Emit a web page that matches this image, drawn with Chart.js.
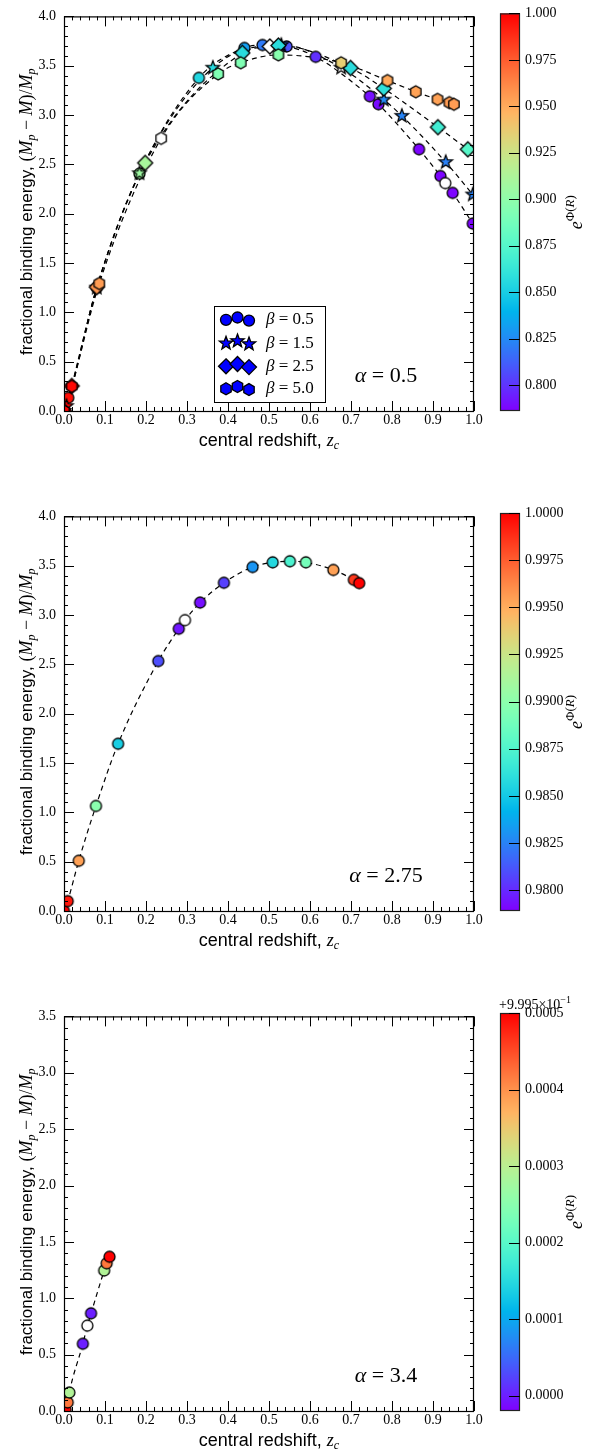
<!DOCTYPE html>
<html>
<head>
<meta charset="utf-8">
<script src="https://cdn.jsdelivr.net/npm/chart.js@4.4.0/dist/chart.umd.min.js"></script>
<style>
html, body { margin: 0; padding: 0; background: #fff; }
body { width: 606px; height: 1453px; position: relative; overflow: hidden; }
.box { position: absolute; }
</style>
</head>
<body>
<div class="box" style="left:0;top:0;width:490px;height:455px"><canvas id="p1"></canvas></div>
<div class="box" style="left:495px;top:0;width:111px;height:455px"><canvas id="c1"></canvas></div>
<div class="box" style="left:0;top:500px;width:490px;height:455px"><canvas id="p2"></canvas></div>
<div class="box" style="left:495px;top:488px;width:111px;height:467px"><canvas id="c2"></canvas></div>
<div class="box" style="left:0;top:1000px;width:490px;height:455px"><canvas id="p3"></canvas></div>
<div class="box" style="left:495px;top:988px;width:111px;height:467px"><canvas id="c3"></canvas></div>
<script>
// tick labels
const xTicks = [0.0, 0.1, 0.2, 0.3, 0.4, 0.5, 0.6, 0.7, 0.8, 0.9, 1.0];
const yTicks4 = [0.0, 0.5, 1.0, 1.5, 2.0, 2.5, 3.0, 3.5, 4.0];
const yTicks35 = [0.0, 0.5, 1.0, 1.5, 2.0, 2.5, 3.0, 3.5];
const cbTicks1 = [0.800, 0.825, 0.850, 0.875, 0.900, 0.925, 0.950, 0.975, 1.000];
const cbTicks2 = [0.9800, 0.9825, 0.9850, 0.9875, 0.9900, 0.9925, 0.9950, 0.9975, 1.0000];
const cbTicks3 = [0.0000, 0.0001, 0.0002, 0.0003, 0.0004, 0.0005];   // offset by +9.995e-1
const cbRange1 = [0.786, 1.0];
const cbRange2 = [0.9789, 1.0];
const cbRange3 = [-0.00002, 0.0005];

// alpha = 0.5 : central redshift, binding energy, e^Phi(R)  (null = white marker)
const betas = [0.5, 1.5, 2.5, 5.0];
const b05_z   = [0.0, 0.0105, 0.080, 0.184, 0.329, 0.440, 0.484, 0.543, 0.614, 0.746, 0.767, 0.866, 0.918, 0.930, 0.948, 0.997];
const b05_be  = [0.0, 0.134, 1.25, 2.405, 3.377, 3.68, 3.71, 3.695, 3.59, 3.19, 3.11, 2.653, 2.382, 2.31, 2.211, 1.90];
const b05_phi = [1.000, 0.996, 0.955, 0.906, 0.854, 0.832, 0.820, 0.808, 0.799, 0.790, 0.789, 0.787, 0.787, null, 0.787, 0.787];

const b15_z   = [0.0, 0.006, 0.080, 0.184, 0.363, 0.530, 0.676, 0.780, 0.824, 0.931, 0.997];
const b15_be  = [0.0, 0.05, 1.25, 2.41, 3.48, 3.71, 3.48, 3.156, 2.992, 2.523, 2.194];
const b15_phi = [1.000, 0.999, 0.955, 0.906, 0.856, 0.830, null, 0.825, 0.823, 0.822, 0.822];

const b25_z   = [0.0, 0.019, 0.080, 0.198, 0.435, 0.502, 0.523, 0.699, 0.780, 0.912, 0.985];
const b25_be  = [0.0, 0.254, 1.256, 2.515, 3.63, 3.695, 3.705, 3.477, 3.27, 2.877, 2.653];
const b25_phi = [1.000, 0.998, 0.957, 0.910, 0.857, null, 0.857, 0.857, 0.859, 0.867, 0.876];

const b50_z   = [0.0, 0.019, 0.086, 0.237, 0.376, 0.431, 0.523, 0.676, 0.789, 0.858, 0.911, 0.940, 0.951];
const b50_be  = [0.0, 0.25, 1.293, 2.764, 3.417, 3.53, 3.61, 3.53, 3.35, 3.236, 3.159, 3.126, 3.109];
const b50_phi = [1.000, 0.998, 0.955, null, 0.893, 0.893, 0.897, 0.936, 0.951, 0.953, 0.953, 0.955, 0.955];

// alpha = 2.75
const a275_z   = [0.0, 0.009, 0.036, 0.078, 0.132, 0.230, 0.280, 0.295, 0.332, 0.390, 0.460, 0.509, 0.551, 0.590, 0.657, 0.707, 0.720];
const a275_be  = [0.0, 0.10, 0.509, 1.065, 1.695, 2.533, 2.861, 2.948, 3.126, 3.327, 3.487, 3.534, 3.545, 3.534, 3.457, 3.357, 3.323];
const a275_phi = [1.0000, 0.9994, 0.9954, 0.9899, 0.9852, 0.9810, 0.9795, null, 0.9793, 0.9806, 0.9831, 0.9857, 0.9873, 0.9890, 0.9954, 0.9985, 1.0000];

// alpha = 3.4  (e^Phi given as offset from 0.9995)
const a34_z   = [0.004, 0.009, 0.013, 0.046, 0.057, 0.066, 0.098, 0.104, 0.111];
const a34_be  = [0.011, 0.076, 0.164, 0.596, 0.757, 0.866, 1.246, 1.31, 1.368];
const a34_phi = [0.0005, 0.00042, 0.00029, 0.0000, null, 0.0000, 0.00029, 0.00042, 0.0005];

const FS = '"Liberation Serif", "Times New Roman", serif';
const FSANS = '"Liberation Sans", Arial, sans-serif';
const serif = (s, it) => (it ? 'italic ' : '') + s + 'px ' + FS;
const sans = s => s + 'px ' + FSANS;

// matplotlib "rainbow" colormap
function rainbow(t) {
  t = Math.max(0, Math.min(1, t));
  const r = Math.min(1, Math.abs(2 * t - 0.5));
  const g = Math.sin(Math.PI * t);
  const b = Math.cos(Math.PI * t / 2);
  return 'rgb(' + Math.round(r * 255) + ',' + Math.round(g * 255) + ',' + Math.round(b * 255) + ')';
}
function colourOf(v, range) {
  if (v == null) return '#ffffff';
  return rainbow((v - range[0]) / (range[1] - range[0]));
}

function markerPath(ctx, shape, x, y, r) {
  ctx.beginPath();
  if (shape === 'circle') {
    ctx.arc(x, y, r, 0, 2 * Math.PI);
  } else if (shape === 'diamond') {
    ctx.moveTo(x, y - r); ctx.lineTo(x + r, y); ctx.lineTo(x, y + r); ctx.lineTo(x - r, y);
  } else if (shape === 'star') {
    for (let i = 0; i < 10; i++) {
      const a = -Math.PI / 2 + i * Math.PI / 5;
      const rr = i % 2 ? r * 0.42 : r;
      ctx.lineTo(x + rr * Math.cos(a), y + rr * Math.sin(a));
    }
  } else if (shape === 'hexagon') {
    for (let i = 0; i < 6; i++) {
      const a = -Math.PI / 2 + i * Math.PI / 3;
      ctx.lineTo(x + r * Math.cos(a), y + r * Math.sin(a));
    }
  }
  ctx.closePath();
}
function drawMarker(ctx, shape, x, y, r, fill) {
  markerPath(ctx, shape, x, y, r);
  ctx.fillStyle = fill;
  ctx.fill();
  ctx.lineWidth = 1.3;
  ctx.strokeStyle = '#000';
  ctx.stroke();
}
const markerCache = {};
function markerImage(shape, r, fill) {
  const key = shape + r + fill;
  if (!markerCache[key]) {
    const c = document.createElement('canvas');
    const s = Math.ceil(2 * r + 4);
    c.width = s; c.height = s;
    drawMarker(c.getContext('2d'), shape, s / 2, s / 2, r, fill);
    markerCache[key] = c;
  }
  return markerCache[key];
}

function drawRich(ctx, parts, x, y, rot, align) {
  ctx.save();
  ctx.translate(x, y);
  ctx.rotate(rot || 0);
  ctx.textBaseline = 'alphabetic';
  ctx.textAlign = 'left';
  ctx.fillStyle = '#000';
  let w = 0;
  parts.forEach(p => { ctx.font = p.f; w += ctx.measureText(p.t).width; });
  let cx = align === 'left' ? 0 : -w / 2;
  parts.forEach(p => {
    ctx.font = p.f;
    ctx.fillText(p.t, cx, p.dy || 0);
    cx += ctx.measureText(p.t).width;
  });
  ctx.restore();
}

const yTitle = [
  {t: 'fractional binding energy, ', f: sans(17)},
  {t: '(', f: serif(18)}, {t: 'M', f: serif(18, 1)}, {t: 'p', f: serif(12, 1), dy: 3},
  {t: ' − ', f: serif(18)}, {t: 'M', f: serif(18, 1)}, {t: ')/', f: serif(18)},
  {t: 'M', f: serif(18, 1)}, {t: 'p', f: serif(12, 1), dy: 3}
];
const xTitle = [
  {t: 'central redshift, ', f: sans(18)},
  {t: 'z', f: serif(18, 1)}, {t: 'c', f: serif(12, 1), dy: 3}
];

function framePlugin(cfg) {
  return {
    id: 'frame',
    afterDraw(chart) {
      const ctx = chart.ctx;
      const {left, right, top, bottom} = chart.chartArea;
      const xs = chart.scales.x, ys = chart.scales.y;
      ctx.save();
      ctx.strokeStyle = '#000';
      ctx.lineWidth = 1;
      ctx.beginPath();
      for (let i = 0; i <= 50; i++) {
        const px = Math.round(xs.getPixelForValue(i / 50)) + 0.5;
        const len = i % 5 === 0 ? 10 : 4;
        ctx.moveTo(px, bottom); ctx.lineTo(px, bottom - len);
        ctx.moveTo(px, top); ctx.lineTo(px, top + len);
      }
      const ny = Math.round(cfg.ymax * 10);
      for (let i = 0; i <= ny; i++) {
        const py = Math.round(ys.getPixelForValue(i / 10)) + 0.5;
        const len = i % 5 === 0 ? 10 : 4;
        ctx.moveTo(left, py); ctx.lineTo(left + len, py);
        ctx.moveTo(right, py); ctx.lineTo(right - len, py);
      }
      ctx.stroke();
      ctx.lineWidth = 1.2;
      ctx.strokeRect(left + 0.5, top + 0.5, right - left - 1, bottom - top);
      ctx.restore();

      drawRich(ctx, xTitle, (left + right) / 2, bottom + 35, 0);
      drawRich(ctx, yTitle, 32, (top + bottom) / 2 - 2, -Math.PI / 2);
      drawRich(ctx, [{t: 'α', f: serif(22, 1)}, {t: ' = ' + cfg.alpha, f: serif(22)}], 386, 382, 0);

      if (cfg.legend) {
        ctx.save();
        ctx.fillStyle = '#fff';
        ctx.strokeStyle = '#000';
        ctx.lineWidth = 1;
        ctx.fillRect(214.5, 306.5, 111, 96);
        ctx.strokeRect(214.5, 306.5, 111, 96);
        const rows = [319, 342.5, 365.5, 388];
        const mx = [226, 237.5, 249], mdy = [0.8, -1.5, 1.6];
        cfg.series.forEach((s, i) => {
          for (let k = 0; k < 3; k++) drawMarker(ctx, s.shape, mx[k], rows[i] + mdy[k], s.r, '#0000ff');
          drawRich(ctx, [{t: 'β', f: serif(17, 1)}, {t: ' = ' + betas[i].toFixed(1), f: serif(17)}], 266, rows[i] + 5, 0, 'left');
        });
        ctx.restore();
      }
    }
  };
}

function mainChart(id, cfg) {
  const datasets = [];
  cfg.series.forEach((s, i) => {
    const pts = s.z.map((z, k) => ({x: z, y: s.be[k]}));
    datasets.push({
      data: pts, showLine: true, borderColor: '#000', borderWidth: 1.2, borderDash: [5, 4],
      pointRadius: 0, fill: false, cubicInterpolationMode: 'monotone', order: 20 + i
    });
    datasets.push({
      data: pts, showLine: false, pointRadius: s.r, pointHoverRadius: s.r,
      pointStyle: c => markerImage(s.shape, s.r, colourOf(s.phi[c.dataIndex], cfg.range)),
      order: cfg.series.length - i
    });
  });
  new Chart(document.getElementById(id), {
    type: 'scatter',
    data: {datasets: datasets},
    options: {
      responsive: true, maintainAspectRatio: false, animation: false, events: [],
      layout: {padding: {top: 13, right: 16, left: 0, bottom: 0}},
      plugins: {legend: {display: false}, tooltip: {enabled: false}},
      scales: {
        x: {
          type: 'linear', min: 0, max: 1,
          afterBuildTicks: s => { s.ticks = xTicks.map(v => ({value: v})); },
          afterFit: s => { s.height = 44; },
          ticks: {callback: v => v.toFixed(1), font: {family: FS, size: 14}, color: '#000', padding: 1, maxRotation: 0, autoSkip: false},
          grid: {display: false, drawTicks: false}, border: {display: false}
        },
        y: {
          type: 'linear', min: 0, max: cfg.ymax,
          afterBuildTicks: s => { s.ticks = cfg.yTicks.map(v => ({value: v})); },
          afterFit: s => { s.width = 64; },
          ticks: {callback: v => v.toFixed(1), font: {family: FS, size: 14}, color: '#000', padding: 8, autoSkip: false},
          grid: {display: false, drawTicks: false}, border: {display: false}
        }
      }
    },
    plugins: [framePlugin(cfg)]
  });
}

function colourBar(id, range, ticks, digits, offsetText, padTop) {
  new Chart(document.getElementById(id), {
    type: 'scatter',
    data: {datasets: []},
    options: {
      responsive: true, maintainAspectRatio: false, animation: false, events: [],
      layout: {padding: {top: padTop, right: 0, left: 5, bottom: 44}},
      plugins: {legend: {display: false}, tooltip: {enabled: false}},
      scales: {
        x: {display: false, min: 0, max: 1},
        y: {
          type: 'linear', position: 'right', min: range[0], max: range[1],
          afterBuildTicks: s => { s.ticks = ticks.map(v => ({value: v})); },
          afterFit: s => { s.width = 86; },
          ticks: {callback: v => v.toFixed(digits), font: {family: FS, size: 14}, color: '#000', padding: 5, autoSkip: false},
          grid: {display: false, drawTicks: false}, border: {display: false}
        }
      }
    },
    plugins: [{
      id: 'bar',
      afterDraw(chart) {
        const ctx = chart.ctx;
        const {left, right, top, bottom} = chart.chartArea;
        const ys = chart.scales.y;
        const g = ctx.createLinearGradient(0, bottom, 0, top);
        for (let i = 0; i <= 32; i++) g.addColorStop(i / 32, rainbow(i / 32));
        ctx.save();
        ctx.fillStyle = g;
        ctx.fillRect(left, top, right - left, bottom - top);
        ctx.strokeStyle = '#222';
        ctx.lineWidth = 1.2;
        ctx.strokeRect(left + 0.5, top + 0.5, right - left - 1, bottom - top - 1);
        ctx.strokeStyle = '#000';
        ctx.lineWidth = 1;
        ctx.beginPath();
        ticks.forEach(v => {
          const py = Math.round(ys.getPixelForValue(v)) + 0.5;
          ctx.moveTo(right - 11, py); ctx.lineTo(right, py);
        });
        ctx.stroke();
        ctx.restore();
        drawRich(ctx, [
          {t: 'e', f: serif(18, 1)}, {t: 'Φ(', f: serif(13), dy: -8},
          {t: 'R', f: serif(13, 1), dy: -8}, {t: ')', f: serif(13), dy: -8}
        ], 87, (top + bottom) / 2, -Math.PI / 2);
        if (offsetText) {
          drawRich(ctx, [{t: offsetText, f: serif(14)}, {t: '−1', f: serif(10), dy: -6}], left - 1, top - 4, 0, 'left');
        }
      }
    }]
  });
}

mainChart('p1', {
  ymax: 4, yTicks: yTicks4, range: cbRange1, alpha: '0.5', legend: true,
  series: [
    {z: b05_z, be: b05_be, phi: b05_phi, shape: 'circle', r: 5.5},
    {z: b15_z, be: b15_be, phi: b15_phi, shape: 'star', r: 7},
    {z: b25_z, be: b25_be, phi: b25_phi, shape: 'diamond', r: 7.5},
    {z: b50_z, be: b50_be, phi: b50_phi, shape: 'hexagon', r: 6}
  ]
});
mainChart('p2', {
  ymax: 4, yTicks: yTicks4, range: cbRange2, alpha: '2.75',
  series: [{z: a275_z, be: a275_be, phi: a275_phi, shape: 'circle', r: 5.5}]
});
mainChart('p3', {
  ymax: 3.5, yTicks: yTicks35, range: cbRange3, alpha: '3.4',
  series: [{z: a34_z, be: a34_be, phi: a34_phi, shape: 'circle', r: 5.5}]
});
colourBar('c1', cbRange1, cbTicks1, 3, null, 13);
colourBar('c2', cbRange2, cbTicks2, 4, null, 25);
colourBar('c3', cbRange3, cbTicks3, 4, '+9.995×10', 25);
</script>
</body>
</html>
